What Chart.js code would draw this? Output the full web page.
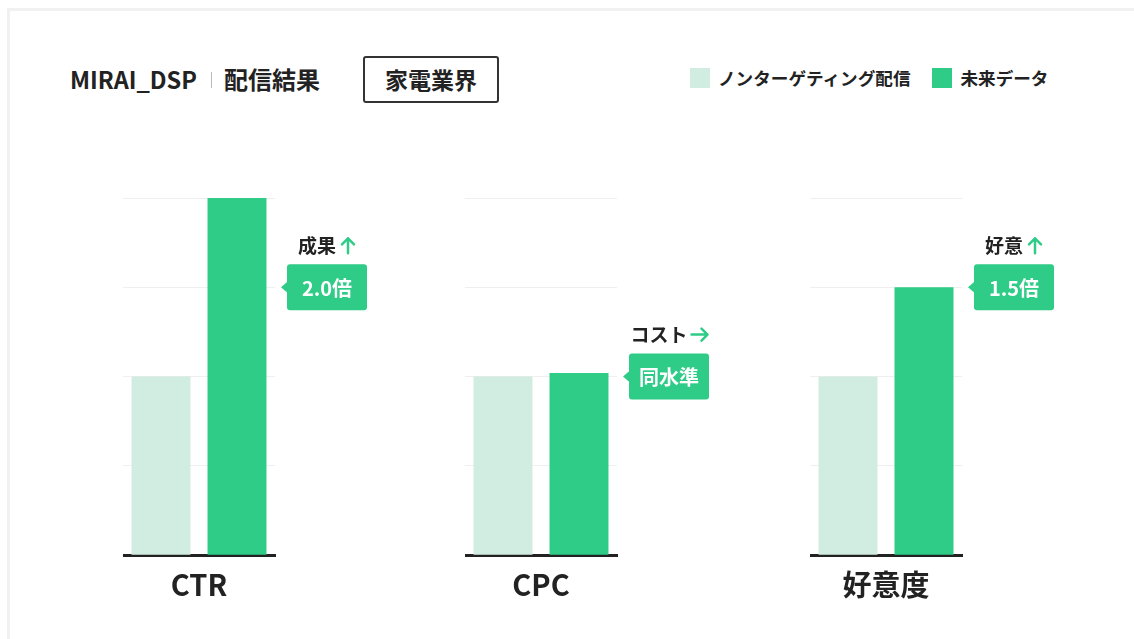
<!DOCTYPE html>
<html>
<head>
<meta charset="utf-8">
<script src="https://cdn.jsdelivr.net/npm/chart.js@4.4.1/dist/chart.umd.min.js"></script>
<style>
  html, body { margin:0; padding:0; background:#fff; }
  body { width:1134px; height:639px; position:relative; overflow:hidden;
         font-family:"Noto Sans CJK JP","Noto Sans",sans-serif; color:#222; }
  #frame { position:absolute; left:7px; top:8px; width:1200px; height:700px;
           border-top:3px solid #f1f1f1; border-left:3px solid #f1f1f1; }
  .hdr { position:absolute; font-weight:700; white-space:nowrap; }
  #brand { left:70px; top:64px; font-size:23.5px; line-height:30px; }
  #sep { position:absolute; left:211px; top:72px; width:1px; height:16px; background:#bbb; }
  #sub { left:224px; top:64px; font-size:24px; line-height:30px; }
  #industry { position:absolute; left:363px; top:56px; width:132px; height:43px;
              border:2px solid #333; border-radius:3px; font-size:23px; font-weight:700;
              line-height:43px; text-align:center; }
  #legend { position:absolute; left:690px; top:64px; display:flex; align-items:center;
            font-size:17.6px; font-weight:700; line-height:28px; white-space:nowrap; }
  .sw { width:20px; height:20px; margin-right:8px; }
  .lg { display:flex; align-items:center; margin-right:22px; }
  canvas { position:absolute; }
</style>
</head>
<body>
<div id="frame"></div>
<div id="brand" class="hdr">MIRAI_DSP</div>
<div id="sep"></div>
<div id="sub" class="hdr">配信結果</div>
<div id="industry">家電業界</div>
<div id="legend"></div>

<script>
// ---- data ----
const categories   = ['CTR', 'CPC', '好意度'];
const seriesNames  = ['ノンターゲティング配信', '未来データ'];
const nonTargeting = [1.0, 1.0, 1.0];
const miraiData    = [2.0, 1.02, 1.5];
const calloutTitle = ['成果', 'コスト', '好意'];
const calloutArrow = ['up', 'right', 'up'];
const calloutBadge = ['2.0倍', '同水準', '1.5倍'];
const calloutAt    = [1.5, 1.0, 1.5];
const yTicks       = [0, 0.5, 1.0, 1.5, 2.0];

// ---- styles ----
const LIGHT = '#d1ece0';
const GREEN = '#2ecc87';
const FONT = '"Noto Sans CJK JP","Noto Sans",sans-serif';
const panelLeft = [123, 465, 810];

// legend (HTML)
const legend = document.getElementById('legend');
[LIGHT, GREEN].forEach((c, i) => {
  const d = document.createElement('div'); d.className = 'lg';
  d.innerHTML = '<div class="sw" style="background:' + c + '"></div><span>' + seriesNames[i] + '</span>';
  legend.appendChild(d);
});

const calloutPlugin = {
  id: 'callout',
  afterDraw(chart) {
    const i = chart.options.plugins.callout.index;
    const ctx = chart.ctx;
    const area = chart.chartArea;
    const y = chart.scales.y.getPixelForValue(calloutAt[i]);
    const bx = area.right + 12, bw = 80, bh = 46;
    const by = y - bh / 2;
    ctx.save();
    ctx.fillStyle = GREEN;
    ctx.beginPath();
    if (ctx.roundRect) ctx.roundRect(bx, by, bw, bh, 3); else ctx.rect(bx, by, bw, bh);
    ctx.fill();
    ctx.beginPath();
    ctx.moveTo(bx + 1, y - 6);
    ctx.lineTo(bx - 6, y);
    ctx.lineTo(bx + 1, y + 6);
    ctx.closePath();
    ctx.fill();
    ctx.fillStyle = '#fff';
    ctx.font = '700 20px ' + FONT;
    ctx.textAlign = 'center';
    ctx.textBaseline = 'middle';
    ctx.fillText(calloutBadge[i], bx + bw / 2, y + 1);
    ctx.font = '700 19px ' + FONT;
    const tw = ctx.measureText(calloutTitle[i]).width;
    const aw = 16, gap = 4;
    const total = tw + gap + aw;
    const cx = bx + bw / 2;
    const tx = cx - total / 2;
    const ty = by - 19;
    ctx.fillStyle = '#222';
    ctx.textAlign = 'left';
    ctx.fillText(calloutTitle[i], tx, ty);
    const ax = tx + tw + gap;
    ctx.strokeStyle = GREEN;
    ctx.lineWidth = 2.5;
    ctx.lineCap = 'round';
    ctx.lineJoin = 'round';
    ctx.beginPath();
    if (calloutArrow[i] === 'up') {
      ctx.moveTo(ax + aw / 2, ty + 8); ctx.lineTo(ax + aw / 2, ty - 7);
      ctx.moveTo(ax + 2, ty - 1); ctx.lineTo(ax + aw / 2, ty - 7); ctx.lineTo(ax + aw - 2, ty - 1);
    } else {
      ctx.moveTo(ax, ty); ctx.lineTo(ax + aw, ty);
      ctx.moveTo(ax + aw - 6, ty - 6); ctx.lineTo(ax + aw, ty); ctx.lineTo(ax + aw - 6, ty + 6);
    }
    ctx.stroke();
    ctx.restore();
  }
};

categories.forEach((cat, i) => {
  const cv = document.createElement('canvas');
  cv.width = 262; cv.height = 430;
  cv.style.left = panelLeft[i] + 'px';
  cv.style.top = '190px';
  cv.style.width = '262px'; cv.style.height = '430px';
  document.body.appendChild(cv);
  new Chart(cv, {
    type: 'bar',
    data: {
      labels: [cat],
      datasets: [
        { label: seriesNames[0], data: [nonTargeting[i]], backgroundColor: LIGHT },
        { label: seriesNames[1], data: [miraiData[i]], backgroundColor: GREEN }
      ]
    },
    options: {
      responsive: false,
      animation: false,
      events: [],
      layout: { padding: { top: 8, right: 110, left: 0, bottom: 6 } },
      barPercentage: 0.776,
      categoryPercentage: 1.0,
      plugins: { legend: { display: false }, tooltip: { enabled: false }, callout: { index: i } },
      scales: {
        x: {
          grid: { display: false, drawTicks: false },
          border: { display: true, color: '#222', width: 3 },
          ticks: { color: '#222', padding: 12, font: { family: FONT, size: 29, weight: '700' } }
        },
        y: {
          min: 0, max: 2,
          afterBuildTicks: (s) => { s.ticks = yTicks.map(v => ({ value: v })); },
          grid: { color: '#efefef', lineWidth: 1, drawTicks: false },
          border: { display: false },
          ticks: { display: false }
        }
      }
    },
    plugins: [calloutPlugin]
  });
});
</script>
</body>
</html>
